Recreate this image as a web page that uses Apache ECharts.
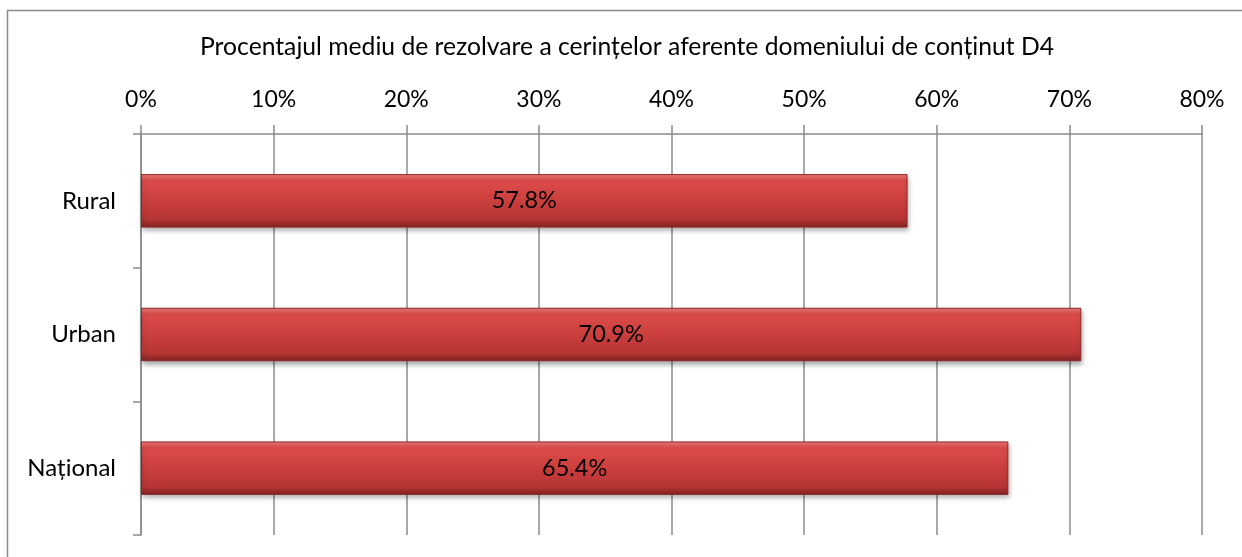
<!DOCTYPE html>
<html>
<head>
<meta charset="utf-8">
<script src="https://cdn.jsdelivr.net/npm/echarts@6/dist/echarts.min.js"></script>
<style>
  html, body { margin: 0; padding: 0; background: #fff; }
  #chart { width: 1242px; height: 557px; }
</style>
</head>
<body>
<div id="chart"></div>
<script>
// data
const categories = ['Rural', 'Urban', 'Național'];
const values = [57.8, 70.9, 65.4];
const axisMax = 80;
const axisStep = 10;
const titleText = 'Procentajul mediu de rezolvare a cerințelor aferente domeniului de conținut D4';

const chart = echarts.init(document.getElementById('chart'));
const fontFam = 'Lato, "Liberation Sans", sans-serif';
const gridGray = '#8c8c8c';

const option = {
  animation: false,
  textStyle: { fontFamily: fontFam },
  title: {
    text: titleText,
    left: 200,
    top: 35,
    padding: 0,
    textStyle: { fontSize: 24.7, fontWeight: 'normal', color: '#000', fontFamily: fontFam }
  },
  graphic: [{
    type: 'rect',
    shape: { x: 7.5, y: 10.5, width: 1240, height: 560 },
    style: { fill: 'none', stroke: '#8c8c8c', lineWidth: 1.5 },
    silent: true
  }],
  grid: { left: 141, right: 40, top: 134, bottom: 22 },
  xAxis: {
    type: 'value',
    position: 'top',
    min: 0,
    max: axisMax,
    interval: axisStep,
    axisLine: { show: true, lineStyle: { color: gridGray, width: 1.5 } },
    axisTick: { show: true, inside: false, length: 9, lineStyle: { color: gridGray, width: 1.5 } },
    splitLine: { show: true, lineStyle: { color: gridGray, width: 1.5 } },
    axisLabel: { fontSize: 23, color: '#000', margin: 23, formatter: v => v + '%' }
  },
  yAxis: {
    type: 'category',
    inverse: true,
    data: categories,
    axisLine: { show: true, lineStyle: { color: gridGray, width: 1.5 } },
    axisTick: { show: true, length: 8, lineStyle: { color: gridGray, width: 1.5 } },
    axisLabel: { fontSize: 24, color: '#000', margin: 25 }
  },
  series: [{
    type: 'bar',
    data: values,
    barWidth: '40%',
    itemStyle: {
      color: new echarts.graphic.LinearGradient(0, 0, 0, 1, [
        { offset: 0, color: '#f47c7a' },
        { offset: 0.12, color: '#dc4c4a' },
        { offset: 0.5, color: '#cb3f3d' },
        { offset: 0.85, color: '#b53534' },
        { offset: 1, color: '#7f2221' }
      ]),
      borderColor: '#8a2a28',
      borderWidth: 1,
      shadowColor: 'rgba(0,0,0,0.35)',
      shadowBlur: 5,
      shadowOffsetX: 1,
      shadowOffsetY: 3
    },
    label: {
      show: true,
      position: 'inside',
      fontSize: 23.5,
      color: '#000',
      fontFamily: fontFam,
      formatter: p => p.value.toFixed(1) + '%'
    }
  }]
};

chart.setOption(option);
</script>
</body>
</html>
